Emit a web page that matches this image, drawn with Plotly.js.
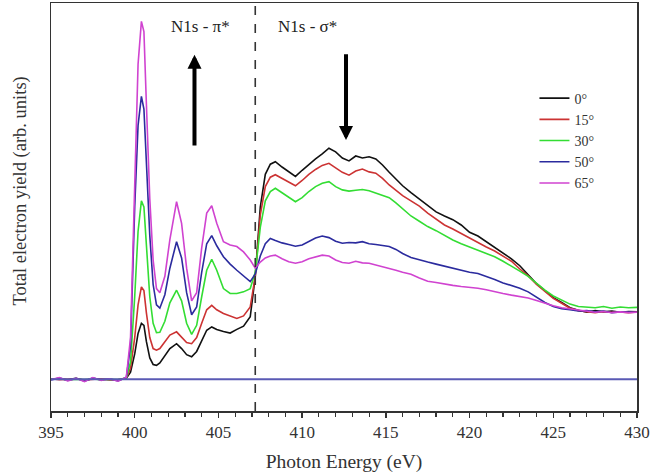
<!DOCTYPE html>
<html>
<head>
<meta charset="utf-8">
<script src="https://cdn.plot.ly/plotly-3.0.1.min.js"></script>
<style>html,body{margin:0;padding:0;background:#fff;}#chart{width:664px;height:476px;}</style>
</head>
<body>
<div id="chart"></div>
<script>
const energy = [395,395.5,396,396.5,397,397.5,398,398.5,399,399.5,399.75,400,400.2,400.4,400.55,400.7,400.9,401.1,401.3,401.5,401.8,402.1,402.5,402.8,403.1,403.4,403.7,404.0,404.3,404.6,404.9,405.3,405.7,406.1,406.5,406.9,407.2,407.5,407.8,408.1,408.4,408.8,409.2,409.6,410,410.4,410.8,411.2,411.6,412,412.4,412.8,413.2,413.6,414,414.4,414.8,415.2,415.6,416,416.5,417,417.5,418,418.5,419,419.5,420,420.5,421,421.5,422,422.5,423,423.5,424,424.5,425,425.5,426,426.5,427,427.5,428,428.5,429,429.5,430];

const deg0 = [7.8,7.9,7.7,8.0,7.5,7.9,7.8,7.7,7.6,8.0,9.5,14,19,21.5,21,17,13,11.4,11.2,11.8,13.5,15.3,16.5,15.3,13.8,13.3,14.6,17.3,19.8,20.6,20,19.5,19.1,20,20.8,23.1,33,50,58,60.5,61.1,59.8,58.7,57.5,59,60.5,61.8,63,64.4,63.5,62,61.3,62.5,62,62.3,61.8,60.3,58.5,56.8,55.2,53.5,52,50.3,48.8,47.8,46.9,45.6,43.8,42.9,41.5,40.3,38.9,37.3,35.6,33.3,31.2,29.5,27.8,26.6,25.3,24.7,24.2,24.6,24.3,24.5,24.2,24.4,24.3];

const deg15 = [7.9,7.7,7.8,7.9,7.6,7.8,7.9,7.6,7.7,8.0,10.5,18,26,30.4,29.5,24,18,15.3,14.9,15.3,17,18.6,19.4,18.2,16.8,16.5,18,21.5,24.8,25.9,24.8,23.9,23.2,22.7,23.3,25.5,33,48,55,57.3,57.9,57,56,55.2,56.5,58,59.2,60.2,60.7,59.6,58.5,57.8,58.8,59.3,58.6,58.3,57,55.4,54,52.8,51.5,50.2,48.5,47,45.6,44.6,43.5,42.2,41.2,40.2,39.2,38,36.7,34.8,33.1,31,29.3,27.6,26.4,25.2,24.6,24.3,24.1,24.4,24.2,24.3,24.1,24.3];

const deg30 = [7.8,7.9,7.6,7.8,7.7,7.9,7.6,7.8,7.7,8.1,12,28,44,51.5,50,40,28,21.5,19.2,19.3,22,26.5,29.6,27,21.5,18.8,21,28,34.5,37.2,34.5,30,28.8,28.8,29.2,30,34,45,51.5,53.8,54.6,53.5,52.3,51.3,52.3,53.8,55,55.8,56.2,55,54.2,53.9,54.1,54.3,54,53.4,52.9,52.3,51,49.5,47.8,46.5,45.2,44.2,43,41.9,41,40.1,39.4,38.6,37.8,36.7,35.6,34.3,33,31.2,29.6,28.2,27.2,26.2,25.6,25.5,25.3,25.6,25.2,25.5,25.3,25.4];

const deg50 = [7.6,8.1,7.5,8.0,7.3,8.1,7.6,7.9,7.4,8.2,16,50,70,77.1,74,60,43,31,26,25.2,28.5,35,41.5,37.5,29,23.6,25.5,34,41,43,40.5,37.8,36,34.5,33,31.7,33.6,38,41,42.3,41.8,41.2,40.8,40.4,40.7,41.6,42.4,42.9,42.5,41.6,41.1,41.3,41.2,41.5,41,40.8,40.5,40.3,39.6,38.6,37.6,37,36.5,36,35.5,35,34.5,34,33.7,33,32.2,31.4,30.8,30.1,29.2,27.8,26.6,25.6,25.1,24.8,24.5,24.6,24.3,24.5,24.1,24.3,24.2,24.2];

const deg65 = [7.7,8.2,7.4,8.0,7.2,8.2,7.5,7.9,7.3,8.3,18,55,85,95.5,93,75,52,37,30,29,33,42,51.3,46,35,27,29,40,48.5,50.3,46,41.5,40.7,40.3,39,37,35,36.5,37.5,38,38.2,37.3,36.6,36.2,36.6,37.3,37.8,38.2,38,37,36.4,36.2,36.7,36.3,36.2,35.8,35.3,35,34.5,34,33.5,32.6,31.8,31.5,31.1,30.8,30.5,30.3,30.1,29.7,29.2,28.8,28.4,28,27.7,27.1,26.4,25.8,25.3,25,24.7,24.4,24.2,24.4,24.1,24.3,24.1,24.2];

const seriesNames = ['0°','15°','30°','50°','65°'];
const seriesData = [deg0, deg15, deg30, deg50, deg65];
const seriesColors = ['#111111','#cc3333','#33dd33','#2b2b9e','#d043d0'];
const baselineLevel = 7.8;
const edgeEnergy = 407.2;
const xTicks = [395,400,405,410,415,420,425,430];

const traces = seriesData.map((d, i) => ({
  x: energy, y: d, type: 'scatter', mode: 'lines', name: seriesNames[i],
  line: {color: seriesColors[i], width: 1.6}
}));

const serif = 'Liberation Serif';

const layout = {
  width: 664, height: 476,
  margin: {l: 50.7, r: 26.7, t: 3.3, b: 65.3},
  paper_bgcolor: '#fff', plot_bgcolor: '#fff',
  font: {family: serif, color: '#222', size: 15},
  showlegend: true,
  legend: {x: 0.825, y: 0.805, xanchor: 'left', yanchor: 'top', bgcolor: 'rgba(0,0,0,0)',
           font: {family: serif, size: 14, color: '#333'}, tracegroupgap: 0, itemwidth: 30},
  xaxis: {
    range: [395, 430], tickvals: xTicks, ticktext: xTicks.map(String),
    ticks: 'outside', ticklen: 5, tickwidth: 1.5, tickcolor: '#333',
    minor: {dtick: 1, ticks: 'outside', ticklen: 4, tickwidth: 1.2, tickcolor: '#333'},
    showline: true, linecolor: '#333', linewidth: 1.5, mirror: true,
    showgrid: false, zeroline: false,
    tickfont: {family: serif, size: 17, color: '#333'},
    title: {text: 'Photon Energy (eV)', font: {family: serif, size: 19.5, color: '#333'}, standoff: 13}
  },
  yaxis: {
    range: [0, 100], showticklabels: false, ticks: '',
    showline: true, linecolor: '#333', linewidth: 1.5, mirror: true,
    showgrid: false, zeroline: false
  },
  shapes: [
    {type: 'line', xref: 'x', yref: 'paper', x0: edgeEnergy, x1: edgeEnergy, y0: 0, y1: 1,
     line: {color: '#333', width: 1.6, dash: 'dash'}},
    {type: 'line', xref: 'paper', yref: 'y', x0: 0, x1: 1, y0: baselineLevel, y1: baselineLevel,
     line: {color: '#5a5ab4', width: 2}}
  ],
  annotations: [
    {xref: 'x', yref: 'y', x: 403.9, y: 94.2, text: 'N1s - π*', showarrow: false,
     font: {family: serif, size: 17, color: '#222'}},
    {xref: 'x', yref: 'y', x: 410.3, y: 94.2, text: 'N1s - σ*', showarrow: false,
     font: {family: serif, size: 17, color: '#222'}},
    {xref: 'x', yref: 'y', axref: 'x', ayref: 'y', x: 403.57, y: 87.3, ax: 403.57, ay: 64.7,
     text: '', showarrow: true, arrowhead: 2, arrowsize: 0.7, arrowwidth: 4, arrowcolor: '#000'},
    {xref: 'x', yref: 'y', axref: 'x', ayref: 'y', x: 412.62, y: 66.4, ax: 412.62, ay: 87.8,
     text: '', showarrow: true, arrowhead: 2, arrowsize: 0.7, arrowwidth: 4, arrowcolor: '#000'},
    {xref: 'paper', yref: 'paper', x: -0.052, y: 0.539, xanchor: 'center', yanchor: 'middle',
     text: 'Total electron yield (arb. units)', textangle: -90, showarrow: false,
     font: {family: serif, size: 18.5, color: '#333'}}
  ]
};

Plotly.newPlot('chart', traces, layout, {displayModeBar: false, staticPlot: true});
</script>
</body>
</html>
